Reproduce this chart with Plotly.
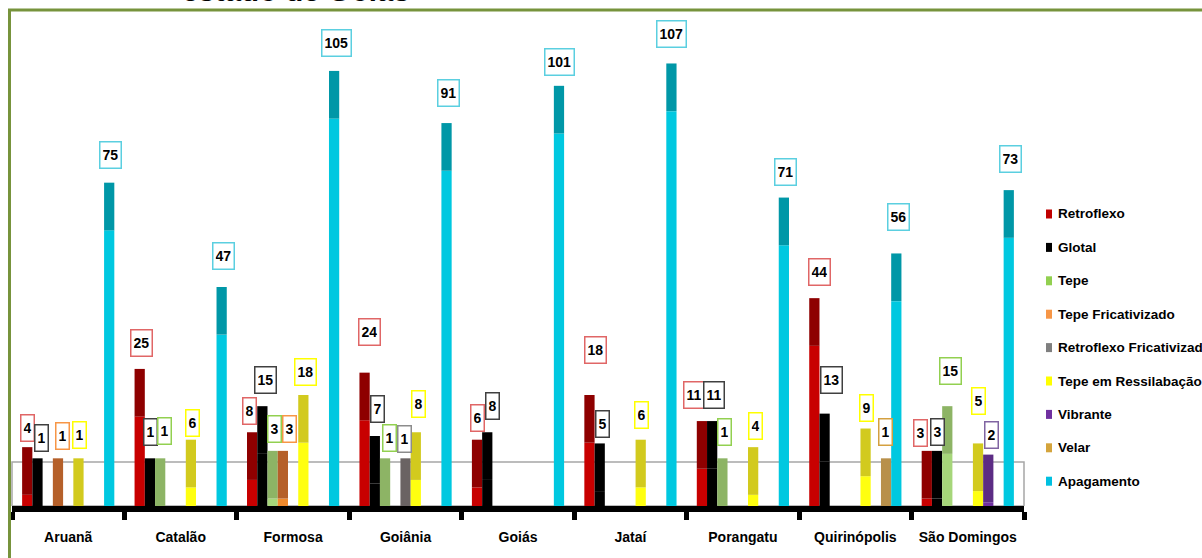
import plotly.graph_objects as go

# ---------------- data ----------------
cities = ["Aruanã", "Catalão", "Formosa", "Goiânia", "Goiás", "Jataí",
          "Porangatu", "Quirinópolis", "São Domingos"]
series_names = ["Retroflexo", "Glotal", "Tepe", "Tepe Fricativizado",
                "Retroflexo Fricativizado", "Tepe em Ressilabação",
                "Vibrante", "Velar", "Apagamento"]

retroflexo = [4, 25, 8, 24, 6, 18, 11, 44, 3]
glotal = [1, 1, 15, 7, 8, 5, 11, 13, 3]
tepe = [0, 1, 3, 1, 0, 0, 1, 0, 15]
tepe_fricativizado = [1, 0, 3, 0, 0, 0, 0, 0, 0]
retroflexo_fricativizado = [0, 0, 0, 1, 0, 0, 0, 0, 0]
tepe_ressilabacao = [1, 6, 18, 8, 0, 6, 4, 9, 5]
vibrante = [0, 0, 0, 0, 0, 0, 0, 0, 2]
velar = [0, 0, 0, 0, 0, 0, 0, 1, 0]
apagamento = [75, 47, 105, 91, 101, 107, 71, 56, 73]

title_text = "estado de Goiás"

# ---------------- style ----------------
values = [retroflexo, glotal, tepe, tepe_fricativizado, retroflexo_fricativizado,
          tepe_ressilabacao, vibrante, velar, apagamento]
light_colors = ["#C80000", "#000000", "#A6D67A", "#F08A2C", "#7F7F7F",
                "#FFFF10", "#7030A0", "#D4A83C", "#00C8E0"]
dark_colors = ["#8E0000", "#000000", "#8DB465", "#B5602A", "#6A6363",
               "#D2CA1E", "#5C2C84", "#B8904A", "#0097A7"]
legend_colors = ["#C00000", "#000000", "#92D050", "#F79646", "#7F7F7F",
                 "#FFFF00", "#7030A0", "#D4A43C", "#00C0E0"]
border_colors = ["#E06666", "#404040", "#92D050", "#F79646", "#8C8C8C",
                 "#FFFF00", "#8064A2", "#D4A040", "#5BCFE0"]

# label placement nudges (pixels): (series index, city index) -> (dx, gap above bar)
DEFAULT_NUDGE = (2, 10)
label_nudge = {
    (0, 0): (0, 5), (1, 0): (4, 6), (3, 0): (5, 8), (5, 0): (1, 9), (8, 0): (1, 14),
    (0, 1): (2, 12), (1, 1): (1, 12), (2, 1): (4, 13), (5, 1): (2, 3), (8, 1): (2, 17),
    (0, 2): (-3, 7), (1, 2): (3, 12), (2, 2): (2, 8), (3, 2): (7, 8), (5, 2): (2, 9),
    (8, 2): (2, 14),
    (0, 3): (5, 27), (1, 3): (3, 13), (2, 3): (4, 6), (4, 3): (-1, 5), (5, 3): (3, 14),
    (8, 3): (2, 16),
    (0, 4): (0, 8), (1, 4): (5, 12), (8, 4): (1, 10),
    (0, 5): (6, 31), (1, 5): (3, 5), (5, 5): (1, 11), (8, 5): (0, 15),
    (0, 6): (-8, 12), (1, 6): (2, 12), (2, 6): (2, 12), (5, 6): (2, 7), (8, 6): (2, 12),
    (0, 7): (5, 12), (1, 7): (7, 20), (5, 7): (1, 7), (7, 7): (-1, 12), (8, 7): (2, 22),
    (0, 8): (-6, 4), (1, 8): (0, 5), (2, 8): (3, 21), (5, 8): (0, 28), (6, 8): (3, 6),
    (8, 8): (2, 17),
}

FLOOR = -11.8      # depth of the 3D floor, in value units
TOP_FACE = 12.8    # visible top face of each column, in value units
BARGAP = 0.18
NS = len(series_names)

# pixel geometry of the plot area
W, H = 1202, 558
ML, MR, MT, MB = 12, 178, 20, 52
PW, PH = W - ML - MR, H - MT - MB
PX_PER_UNIT = 3.725


def px_to_paper_x(px):
    return (px - ML) / PW


def px_to_paper_y(py):
    return (H - MB - py) / PH


FONT = "Liberation Sans, Arial, sans-serif"

fig = go.Figure()
annotations = []
slot = (1 - BARGAP) / NS
for k, (name, vals) in enumerate(zip(series_names, values)):
    lb, ll, db, dl = [], [], [], []
    for v in vals:
        if v > 0:
            top_start = max(FLOOR, v - TOP_FACE)
            lb.append(FLOOR)
            ll.append(top_start - FLOOR)
            db.append(top_start)
            dl.append(v - top_start)
        else:
            lb.append(None); ll.append(None); db.append(None); dl.append(None)
    fig.add_trace(go.Bar(
        x=cities, y=ll, base=lb, name=name, offsetgroup=str(k),
        legendgroup=str(k), showlegend=False,
        marker=dict(color=light_colors[k], line=dict(width=0)),
        hoverinfo="skip"))
    fig.add_trace(go.Bar(
        x=cities, y=dl, base=db, name=name, offsetgroup=str(k),
        legendgroup=str(k), showlegend=False,
        marker=dict(color=dark_colors[k], line=dict(width=0)),
        hovertemplate=name + ": %{customdata}<extra></extra>", customdata=vals))
    for j, v in enumerate(vals):
        if v > 0:
            dx, gap = label_nudge.get((k, j), DEFAULT_NUDGE)
            annotations.append(dict(
                x=j - (1 - BARGAP) / 2 + (k + 0.5) * slot, xref="x",
                y=v, yref="y", yanchor="bottom", xanchor="center",
                yshift=gap, xshift=dx,
                text=str(v), showarrow=False, height=21,
                font=dict(family=FONT, size=14, color="#000000", weight="bold"),
                bgcolor="#FFFFFF", bordercolor=border_colors[k], borderwidth=1.5,
                borderpad=2))

# title (only its lower edge shows above the frame)
annotations.append(dict(
    x=0.2806, xref="paper", y=1, yref="paper", yanchor="bottom", xanchor="center",
    yshift=11, text=title_text, showarrow=False,
    font=dict(family=FONT, size=29.5, color="#000000", weight="bold")))

shapes = [
    # back floor of the 3D chart
    dict(type="rect", xref="paper", x0=0, x1=1, yref="y", y0=FLOOR, y1=0,
         line=dict(color="#A6A6A6", width=1.5), fillcolor="rgba(0,0,0,0)",
         layer="below"),
    # olive frame
    dict(type="rect", xref="paper", xsizemode="pixel", xanchor=0, x0=-2.5, x1=3000,
         yref="paper", ysizemode="pixel", yanchor=1, y0=-3000, y1=10,
         line=dict(color="#77933C", width=3), fillcolor="rgba(0,0,0,0)"),
]

# legend built from annotations + swatches
LEG_X_SW, LEG_X_TXT, LEG_Y0, LEG_STEP = 1046, 1056, 214, 33.4
for k, name in enumerate(series_names):
    yc = LEG_Y0 + k * LEG_STEP
    shapes.append(dict(
        type="rect", xref="paper", yref="paper",
        x0=px_to_paper_x(LEG_X_SW), x1=px_to_paper_x(LEG_X_SW + 6),
        y0=px_to_paper_y(yc + 4.5), y1=px_to_paper_y(yc - 4.5),
        line=dict(width=0), fillcolor=legend_colors[k]))
    annotations.append(dict(
        x=px_to_paper_x(LEG_X_TXT), xref="paper", y=px_to_paper_y(yc), yref="paper",
        xanchor="left", yanchor="middle", text=name, showarrow=False,
        font=dict(family=FONT, size=13.5, color="#000000", weight="bold")))

fig.update_layout(
    width=W, height=H,
    margin=dict(l=ML, r=MR, t=MT, b=MB, pad=0, autoexpand=False),
    paper_bgcolor="#FFFFFF", plot_bgcolor="#FFFFFF",
    barmode="group", bargap=BARGAP, bargroupgap=0,
    annotations=annotations, shapes=shapes,
    showlegend=False,
    xaxis=dict(type="category", range=[-0.5, len(cities) - 0.5], automargin=False,
               showline=True, linecolor="#000000", linewidth=6,
               ticks="outside", tickson="boundaries", ticklen=8, tickwidth=5,
               tickcolor="#000000", showgrid=False, zeroline=False,
               tickangle=0, ticklabelstandoff=13,
               tickfont=dict(family=FONT, size=14, color="#000000", weight="bold")),
    yaxis=dict(range=[FLOOR, FLOOR + PH / PX_PER_UNIT], visible=False,
               showgrid=False, zeroline=False, automargin=False),
)

fig.write_html("out.html",
               config={"displayModeBar": False},
               post_script="document.body.style.margin='0px';"
                           "document.body.style.overflow='hidden';")
